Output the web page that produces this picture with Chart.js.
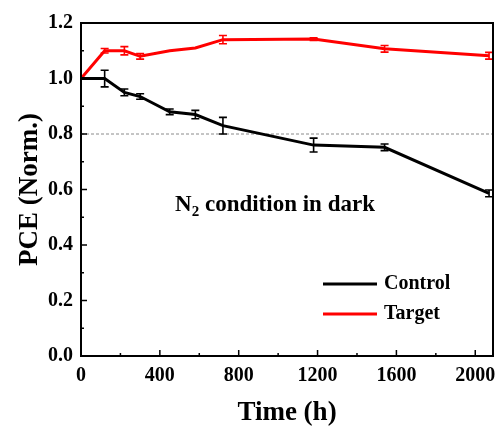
<!DOCTYPE html>
<html>
<head>
<meta charset="utf-8">
<script src="https://cdn.jsdelivr.net/npm/chart.js@4.4.1/dist/chart.umd.min.js"></script>
<style>
  html, body { margin: 0; padding: 0; background: #fff; }
  #wrap { width: 501px; height: 432px; }
</style>
</head>
<body>
<div id="wrap"><canvas id="myChart" width="501" height="432"></canvas></div>
<script>
// data
var times = [0, 120, 220, 300, 450, 580, 720, 1180, 1540, 2070]
var control = [1.0, 1.0, 0.95, 0.935, 0.88, 0.87, 0.83, 0.76, 0.752, 0.586]
var controlErr = [0, 0.03, 0.012, 0.01, 0.01, 0.015, 0.03, 0.025, 0.012, 0.012]
var target = [1.0, 1.10, 1.10, 1.08, 1.10, 1.11, 1.14, 1.142, 1.107, 1.082]
var targetErr = [0, 0.008, 0.015, 0.01, 0, 0, 0.015, 0.005, 0.012, 0.012]
var xTicks = [0, 400, 800, 1200, 1600, 2000]
var yTicks = [0.0, 0.2, 0.4, 0.6, 0.8, 1.0, 1.2]
var refLine = 0.8

var serif = "'Liberation Serif', 'Times New Roman', serif"

function pts(xs, ys){
    var out = []
    for (var i = 0; i < xs.length; i++) out.push({x: xs[i], y: ys[i]})
    return out
}

// frame, inward ticks, dashed 0.8 line, error bars, legend, annotation
var extras = {
    id: 'extras',
    beforeDatasetsDraw: function(chart){
        var ctx = chart.ctx, a = chart.chartArea, y = chart.scales.y
        var py = y.getPixelForValue(refLine)
        ctx.save()
        ctx.strokeStyle = '#8a8a8a'
        ctx.lineWidth = 1
        ctx.setLineDash([3, 2])
        ctx.beginPath()
        ctx.moveTo(a.left, py); ctx.lineTo(a.right, py)
        ctx.stroke()
        ctx.restore()
    },
    afterDatasetsDraw: function(chart){
        var ctx = chart.ctx, a = chart.chartArea
        var xs = chart.scales.x, ys = chart.scales.y
        var errs = [controlErr, targetErr]
        ctx.save()
        chart.data.datasets.forEach(function(ds, di){
            ctx.strokeStyle = ds.borderColor
            ctx.lineWidth = 1.6
            ds.data.forEach(function(p, j){
                var e = errs[di][j]
                if (!e) return
                var px = xs.getPixelForValue(p.x)
                var y1 = ys.getPixelForValue(p.y + e)
                var y2 = ys.getPixelForValue(p.y - e)
                ctx.beginPath()
                ctx.moveTo(px, y1); ctx.lineTo(px, y2)
                ctx.moveTo(px - 4, y1); ctx.lineTo(px + 4, y1)
                ctx.moveTo(px - 4, y2); ctx.lineTo(px + 4, y2)
                ctx.stroke()
            })
        })

        // frame
        ctx.strokeStyle = '#000'
        ctx.lineWidth = 2
        ctx.strokeRect(a.left, a.top, a.right - a.left, a.bottom - a.top)

        // inward ticks: major + minor
        ctx.lineWidth = 1.5
        ctx.beginPath()
        for (var v = 0; v <= 2090; v += 200){
            var px = xs.getPixelForValue(v)
            var len = (v % 400 === 0) ? 6 : 3
            ctx.moveTo(px, a.bottom); ctx.lineTo(px, a.bottom - len)
        }
        for (var k = 0; k <= 12; k++){
            var py = ys.getPixelForValue(k / 10)
            var len2 = (k % 2 === 0) ? 6 : 3
            ctx.moveTo(a.left, py); ctx.lineTo(a.left + len2, py)
        }
        ctx.stroke()

        // legend
        ctx.font = 'bold 20px ' + serif
        ctx.textBaseline = 'middle'
        ctx.textAlign = 'left'
        chart.data.datasets.forEach(function(ds, di){
            var ly = 284 + di * 30
            ctx.strokeStyle = ds.borderColor
            ctx.lineWidth = 3
            ctx.beginPath()
            ctx.moveTo(323, ly); ctx.lineTo(377, ly)
            ctx.stroke()
            ctx.fillStyle = '#000'
            ctx.fillText(ds.label, 384, ly)
        })

        // annotation N2 condition in dark
        var big = 'bold 23px ' + serif, small = 'bold 15px ' + serif
        ctx.font = big
        var w1 = ctx.measureText('N').width
        var w3 = ctx.measureText(' condition in dark').width
        ctx.font = small
        var w2 = ctx.measureText('2').width
        var x0 = 275 - (w1 + w2 + w3) / 2, base = 211
        ctx.textBaseline = 'alphabetic'
        ctx.fillStyle = '#000'
        ctx.font = big
        ctx.fillText('N', x0, base)
        ctx.font = small
        ctx.fillText('2', x0 + w1, base + 5)
        ctx.font = big
        ctx.fillText(' condition in dark', x0 + w1 + w2, base)
        ctx.restore()
    }
}

var ctx = document.getElementById('myChart').getContext('2d')
const chart = new Chart(ctx, {
    type: 'line',
    data: {
        datasets: [{
            label: 'Control',
            data: pts(times, control),
            borderColor: '#000000',
            backgroundColor: '#000000',
            borderWidth: 3,
            pointRadius: 0,
            tension: 0
        }, {
            label: 'Target',
            data: pts(times, target),
            borderColor: '#ff0000',
            backgroundColor: '#ff0000',
            borderWidth: 3,
            pointRadius: 0,
            tension: 0
        }]
    },
    options: {
        responsive: false,
        animation: false,
        layout: { padding: { top: 23, right: 8, left: 0, bottom: 0 } },
        plugins: { legend: { display: false }, tooltip: { enabled: false } },
        scales: {
            x: {
                type: 'linear',
                min: 0, max: 2090,
                grid: { display: false, drawTicks: false },
                border: { display: false },
                afterBuildTicks: function(s){ s.ticks = xTicks.map(function(v){ return {value: v} }) },
                afterFit: function(s){ s.height = 76; s.paddingLeft = 0; s.paddingRight = 0 },
                ticks: {
                    padding: 8,
                    maxRotation: 0,
                    color: '#000',
                    font: { family: serif, size: 20, weight: 'bold' },
                    callback: function(v){ return String(v) }
                },
                title: {
                    display: true, text: 'Time (h)', color: '#000',
                    padding: { top: 0, bottom: 3 },
                    font: { family: serif, size: 27, weight: 'bold' }
                }
            },
            y: {
                min: 0, max: 1.2,
                grid: { display: false, drawTicks: false },
                border: { display: false },
                afterBuildTicks: function(s){ s.ticks = yTicks.map(function(v){ return {value: v} }) },
                afterFit: function(s){ s.width = 81; s.paddingTop = 0; s.paddingBottom = 0 },
                ticks: {
                    padding: 8,
                    color: '#000',
                    font: { family: serif, size: 20, weight: 'bold' },
                    callback: function(v){ return Number(v).toFixed(1) }
                },
                title: {
                    display: true, text: 'PCE (Norm.)', color: '#000',
                    padding: { top: 14, bottom: 0 },
                    font: { family: serif, size: 27, weight: 'bold' }
                }
            }
        }
    },
    plugins: [extras]
})
</script>
</body>
</html>
